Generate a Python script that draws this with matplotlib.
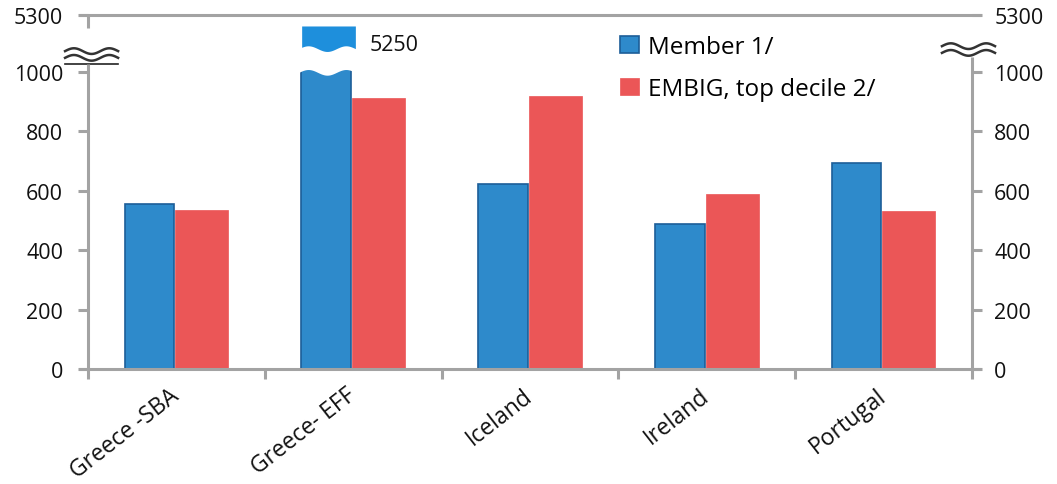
import numpy as np
import matplotlib
matplotlib.use("Agg")
import matplotlib.pyplot as plt
from matplotlib.transforms import blended_transform_factory

categories = ["Greece -SBA", "Greece- EFF", "Iceland", "Ireland", "Portugal"]
member = [555, 5250, 623, 488, 693]
embig = [535, 912, 919, 589, 532]
series_names = ["Member 1/", "EMBIG, top decile 2/"]
y_ticks = [0, 200, 400, 600, 800, 1000, 5300]

BLUE = "#2E8ACB"
BLUE_TOP = "#1E8FDC"
BLUE_EDGE = "#1D5E98"
RED = "#EB5657"
GRAY = "#A3A3A3"

# broken axis: everything above 1000 is squeezed into the top strip
BREAK_LOW = 1000
BREAK_HIGH = 5300
SQUEEZE = 192 / (BREAK_HIGH - BREAK_LOW)


def fwd(v):
    v = np.asarray(v, dtype=float)
    return np.where(v <= BREAK_LOW, v, BREAK_LOW + (v - BREAK_LOW) * SQUEEZE)


def inv(y):
    y = np.asarray(y, dtype=float)
    return np.where(y <= BREAK_LOW, y, BREAK_LOW + (y - BREAK_LOW) / SQUEEZE)


def wave(ax, x0, x1, y, amp=0.008, cycles=1.5, **kw):
    xs = np.linspace(x0, x1, 80)
    ys = y + amp * np.sin(2 * np.pi * cycles * (xs - x0) / (x1 - x0))
    ax.plot(xs, ys, transform=ax.transAxes, clip_on=False, **kw)


plt.rcParams["font.family"] = ["Open Sans", "DejaVu Sans"]

fig = plt.figure(figsize=(10.57, 4.85), dpi=100)
ax = fig.add_axes([0.0833, 0.2371, 0.8363, 0.7299])
ax.set_yscale("function", functions=(fwd, inv))

x = np.arange(len(categories))
ax.bar(x - 0.153, member, 0.28, color=BLUE, edgecolor=BLUE_EDGE, linewidth=1.2,
       label=series_names[0], zorder=2)
ax.bar(x + 0.143, embig, 0.30, color=RED, edgecolor=RED, linewidth=0.5,
       label=series_names[1], zorder=2)

# wavy cut through the bar that goes off the scale
blend = blended_transform_factory(ax.transData, ax.transAxes)
for i, v in enumerate(member):
    if v > BREAK_LOW:
        x0 = i - 0.153 - 0.14 - 0.015
        x1 = i - 0.153 + 0.14 + 0.025
        xs = np.linspace(x0, x1, 80)
        s = 0.008 * np.sin(2 * np.pi * 1.5 * (xs - x0) / (x1 - x0))
        ax.fill_between(xs, 0.838 + s, 0.996, color="white", transform=blend,
                        zorder=3, linewidth=0)
        # brighter top stub above the cut
        xt = xs[xs >= i - 0.153 - 0.14]
        st = 0.008 * np.sin(2 * np.pi * 1.5 * (xt - x0) / (x1 - x0))
        ax.fill_between(xt, 0.905 + st, 0.969, color=BLUE_TOP, transform=blend,
                        zorder=3, linewidth=0)
        ax.text(i + 0.095, 0.918, str(v), transform=blend, ha="left", va="center",
                fontsize=15.5, color="#111111")

ax.set_xlim(-0.5, len(categories) - 0.5)
ax.set_ylim(0, BREAK_HIGH)

for side in ax.spines.values():
    side.set_visible(False)

# axis lines drawn by hand so they can be broken
line_kw = dict(transform=ax.transAxes, color=GRAY, lw=2.2, clip_on=False,
               solid_capstyle="butt", zorder=4)
ax.plot([-0.01, 1.01], [0, 0], **line_kw)
ax.plot([-0.01, 1.01], [1, 1], **line_kw)
ax.plot([0, 0], [0, 0.862], **line_kw)
ax.plot([0, 0], [0.962, 1], **line_kw)
ax.plot([1, 1], [0, 0.881], **line_kw)

brk_kw = dict(color="#333333", lw=1.8)
wave(ax, -0.026, 0.034, 0.898, **brk_kw)
wave(ax, -0.026, 0.034, 0.879, **brk_kw)
ax.plot([-0.026, 0.034], [0.862, 0.862], transform=ax.transAxes, clip_on=False,
        color="#222222", lw=1.2)
wave(ax, 0.966, 1.026, 0.912, **brk_kw)
wave(ax, 0.966, 1.026, 0.893, **brk_kw)

ax.set_yticks(y_ticks)
ax.set_yticklabels([str(t) for t in y_ticks])
ax.tick_params(axis="y", which="both", direction="out", length=7, width=2.2,
               color=GRAY, labelsize=15.5, pad=11, labelcolor="#111111")
ax.yaxis.set_minor_locator(plt.NullLocator())

ax2 = ax.twinx()
ax2.set_yscale("function", functions=(fwd, inv))
ax2.set_ylim(0, BREAK_HIGH)
ax2.set_yticks(y_ticks)
ax2.set_yticklabels([str(t) for t in y_ticks])
ax2.yaxis.set_minor_locator(plt.NullLocator())
ax2.tick_params(axis="y", direction="out", length=7, width=2.2, color=GRAY,
                labelsize=15.5, pad=9, labelcolor="#111111")
for side in ax2.spines.values():
    side.set_visible(False)

ax.set_xticks(np.arange(-0.5, len(categories)))
ax.set_xticklabels([])
ax.set_xticks(x, minor=True)
ax.set_xticklabels(categories, minor=True, rotation=38, ha="right", va="center",
                   rotation_mode="anchor")
ax.tick_params(axis="x", which="major", direction="out", length=7, width=2.2,
               color=GRAY)
ax.tick_params(axis="x", which="minor", length=0, pad=17, labelsize=16.5,
               labelcolor="#111111")

leg = ax.legend(loc="upper left", bbox_to_anchor=(620 / 1057, 1 - 36 / 485),
                bbox_transform=fig.transFigure, frameon=False, fontsize=17.5,
                handlelength=0.8, handleheight=0.7, handletextpad=0.35,
                labelspacing=0.75, borderpad=0, borderaxespad=0)

fig.savefig("out.png", dpi=100)
